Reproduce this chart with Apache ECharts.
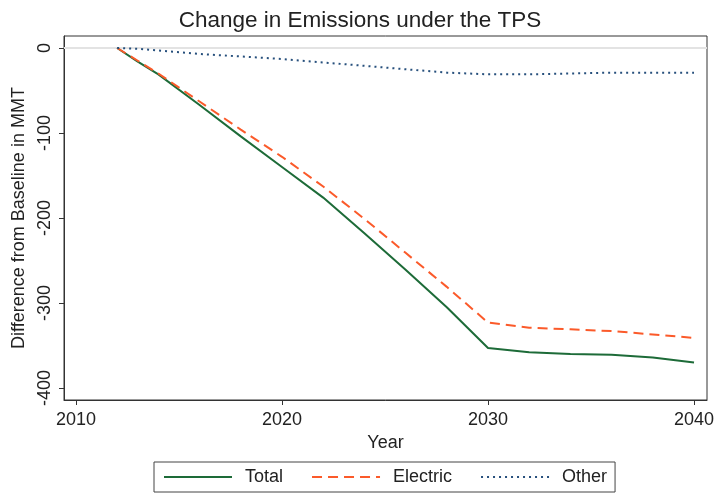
<!DOCTYPE html>
<html>
<head>
<meta charset="utf-8">
<script src="https://cdn.jsdelivr.net/npm/echarts@6/dist/echarts.min.js"></script>
<style>
html,body{margin:0;padding:0;background:#fff;}
#chart{width:720px;height:499px;}
</style>
</head>
<body>
<div id="chart"></div>
<script>
var years = [2012, 2013, 2014, 2016, 2018, 2020, 2022, 2024, 2026, 2028, 2030, 2032, 2034, 2036, 2038, 2040];
var totalVals = [0, -16, -31, -67, -104, -140, -176, -218, -261, -305, -353, -358, -360, -361, -364, -370];
var electricVals = [0, -15, -30, -63, -96, -128, -163, -201, -241, -281, -323, -329, -331, -333, -337, -341];
var otherVals = [0, -1, -3, -7, -10, -13, -17, -21, -25, -29, -31, -31, -30, -29, -29, -29];
var xTicks = [2010, 2020, 2030, 2040];
var yTicks = [0, -100, -200, -300, -400];

function pairs(vals){ return years.map(function(y,i){ return [y, vals[i]]; }); }

var font = 'Liberation Sans, Arial, Helvetica, sans-serif';
var txt = '#222';
var chart = echarts.init(document.getElementById('chart'), null, {renderer:'canvas'});
chart.setOption({
  animation: false,
  backgroundColor: '#fff',
  title: {
    text: 'Change in Emissions under the TPS',
    left: 'center', top: 4,
    textStyle: {fontFamily: font, fontSize: 22.5, fontWeight: 'normal', color: txt}
  },
  grid: {
    left: 64, right: 13, top: 36, bottom: 99,
    show: true, borderColor: '#333', borderWidth: 1, backgroundColor: '#fff'
  },
  xAxis: {
    type: 'value',
    min: 2009.42, max: 2040.63,
    name: 'Year', nameLocation: 'middle', nameGap: 32,
    nameTextStyle: {fontFamily: font, fontSize: 18, color: txt},
    axisLine: {show: true, onZero: false, lineStyle: {color: '#333', width: 1}},
    axisTick: {show: true, length: 5, customValues: xTicks, lineStyle: {color: '#333'}},
    axisLabel: {customValues: xTicks, margin: 11, fontFamily: font, fontSize: 18, color: txt,
      formatter: function(v){ return String(v); }},
    splitLine: {show: false}
  },
  yAxis: {
    type: 'value',
    min: -414.1, max: 14.1,
    name: 'Difference from Baseline in MMT', nameLocation: 'middle', nameGap: 33, nameRotate: 90,
    nameTextStyle: {fontFamily: font, fontSize: 18, color: txt},
    axisLine: {show: true, onZero: false, lineStyle: {color: '#333', width: 1}},
    axisTick: {show: true, length: 5, customValues: yTicks, lineStyle: {color: '#333'}},
    axisLabel: {customValues: yTicks, rotate: 90, align: 'center', verticalAlign: 'bottom', margin: 10,
      fontFamily: font, fontSize: 18, color: txt, formatter: function(v){ return String(v); }},
    splitLine: {show: false}
  },
  legend: {
    left: 154, top: 462,
    padding: [6, 8, 6, 9],
    borderColor: '#444', borderWidth: 1,
    itemWidth: 68, itemHeight: 14, itemGap: 28,
    itemStyle: {opacity: 0},
    textStyle: {fontFamily: font, fontSize: 18, color: txt, padding: [0,0,0,8]},
    data: ['Total', 'Electric', 'Other']
  },
  series: [
    {
      name: 'Total', type: 'line', data: pairs(totalVals),
      showSymbol: false, symbol: 'none',
      lineStyle: {color: '#1d6b38', width: 2, type: 'solid'},
      itemStyle: {color: '#1d6b38'},
      markLine: {
        silent: true, symbol: 'none', label: {show: false},
        lineStyle: {color: '#e3e3e3', width: 2, type: 'solid'},
        data: [{yAxis: 0}],
        z: 1
      },
      z: 3
    },
    {
      name: 'Electric', type: 'line', data: pairs(electricVals),
      showSymbol: false, symbol: 'none',
      lineStyle: {color: '#fb5a2a', width: 2, type: [10, 6]},
      itemStyle: {color: '#fb5a2a'},
      z: 4
    },
    {
      name: 'Other', type: 'line', data: pairs(otherVals),
      showSymbol: false, symbol: 'none',
      lineStyle: {color: '#264f7c', width: 2, type: [2, 4]},
      itemStyle: {color: '#264f7c'},
      z: 5
    }
  ]
});
</script>
</body>
</html>
